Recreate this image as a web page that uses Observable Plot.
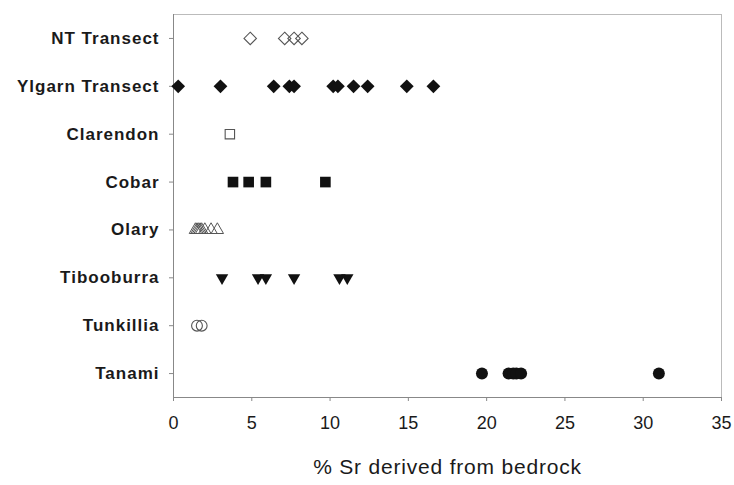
<!DOCTYPE html>
<html>
<head>
<meta charset="utf-8">
<script src="https://cdn.jsdelivr.net/npm/d3@7"></script>
<script src="https://cdn.jsdelivr.net/npm/@observablehq/plot@0.6"></script>
<style>
  html, body { margin: 0; padding: 0; background: #fff; }
  #chart svg { display: block; }
  g[aria-label="y-axis tick label"] text { font-weight: bold; letter-spacing: 1px; }
  .xtitle text { letter-spacing: 0.8px; }
</style>
</head>
<body>
<div id="chart"></div>
<script>
const sites = ["NT Transect", "Ylgarn Transect", "Clarendon", "Cobar", "Olary", "Tibooburra", "Tunkillia", "Tanami"];
const ntTransect = [4.9, 7.1, 7.7, 8.2];
const ylgarnTransect = [0.3, 3.0, 6.4, 7.4, 7.7, 10.2, 10.5, 11.5, 12.4, 14.9, 16.6];
const clarendon = [3.6];
const cobar = [3.8, 4.8, 5.9, 9.7];
const olary = [1.4, 1.5, 1.6, 1.7, 1.8, 2.0, 2.4, 2.8];
const tibooburra = [3.1, 5.4, 5.9, 7.7, 10.6, 11.1];
const tunkillia = [1.5, 1.8];
const tanami = [19.7, 21.4, 21.7, 21.9, 22.2, 31.0];
const xTicks = [0, 5, 10, 15, 20, 25, 30, 35];
const xLabel = "% Sr derived from bedrock";

const rows = (site, vals) => vals.map(v => ({site, value: v}));

const openStroke = "#555";
const solid = "#111";

const chart = Plot.plot({
  width: 734,
  height: 485,
  marginLeft: 173,
  marginRight: 13,
  marginTop: 14,
  marginBottom: 88,
  style: {fontFamily: "'Liberation Sans', Arial, sans-serif", color: "#1a1a1a", background: "#fff"},
  x: {domain: [0, 35]},
  y: {type: "point", domain: sites, padding: 0.5, round: false},
  marks: [
    Plot.frame({stroke: "#bbb"}),
    Plot.frame({anchor: "left", stroke: "#888"}),
    Plot.frame({anchor: "bottom", stroke: "#888"}),
    Plot.axisX({ticks: xTicks, tickSize: 4, tickPadding: 15, fontSize: 18, stroke: "#888", label: null, tickFormat: d => String(d)}),
    Plot.axisY({tickSize: 4, tickPadding: 10, fontSize: 17, fontWeight: "bold", stroke: "#888", label: null}),
    Plot.dot(rows("NT Transect", ntTransect), {x: "value", y: "site", symbol: "diamond2", r: 5.6, fill: "none", stroke: openStroke, strokeWidth: 1.1}),
    Plot.dot(rows("Ylgarn Transect", ylgarnTransect), {x: "value", y: "site", symbol: "diamond2", r: 6.2, fill: solid, stroke: "none"}),
    Plot.dot(rows("Clarendon", clarendon), {x: "value", y: "site", symbol: "square", r: 5.3, fill: "none", stroke: openStroke, strokeWidth: 1.1}),
    Plot.dot(rows("Cobar", cobar), {x: "value", y: "site", symbol: "square", r: 6.0, fill: solid, stroke: "none"}),
    Plot.dot(rows("Olary", olary), {x: "value", y: "site", symbol: "triangle", r: 4.6, fill: "none", stroke: openStroke, strokeWidth: 1.0}),
    Plot.dot(rows("Tibooburra", tibooburra), {x: "value", y: "site", symbol: "triangle", rotate: 180, r: 4.6, fill: solid, stroke: "none"}),
    Plot.dot(rows("Tunkillia", tunkillia), {x: "value", y: "site", symbol: "circle", r: 5.4, fill: "none", stroke: openStroke, strokeWidth: 1.1}),
    Plot.dot(rows("Tanami", tanami), {x: "value", y: "site", symbol: "circle", r: 6, fill: solid, stroke: "none"}),
    Plot.text([xLabel], {frameAnchor: "bottom", dy: 76, fontSize: 21, fill: "#1a1a1a", className: "xtitle"})
  ]
});
document.getElementById("chart").appendChild(chart);
</script>
</body>
</html>
